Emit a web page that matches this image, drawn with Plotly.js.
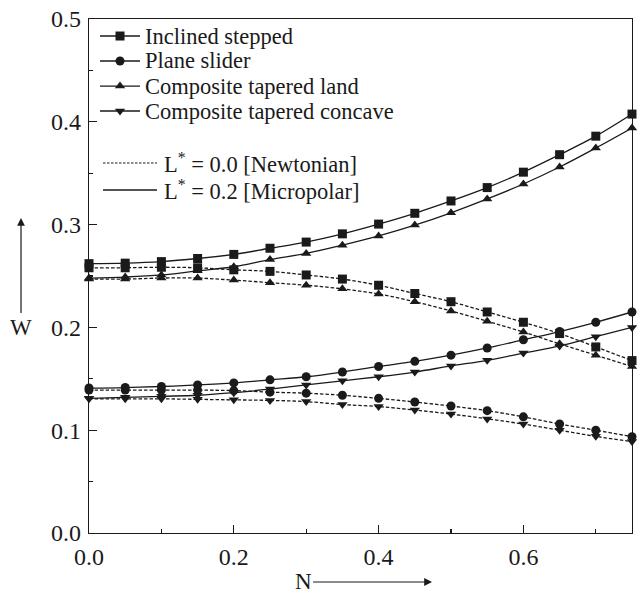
<!DOCTYPE html>
<html>
<head>
<meta charset="utf-8">
<script src="https://cdn.plot.ly/plotly-3.0.1.min.js"></script>
<style>html,body{margin:0;padding:0;background:#fff;}#chart{width:638px;height:597px;}</style>
</head>
<body>
<div id="chart"></div>
<script>
// N values
const N = [0, 0.05, 0.1, 0.15, 0.2, 0.25, 0.3, 0.35, 0.4, 0.45, 0.5, 0.55, 0.6, 0.65, 0.7, 0.75];

// Micropolar (L* = 0.2), solid lines
const steppedMicro  = [0.262, 0.2625, 0.264, 0.267, 0.271, 0.277, 0.283, 0.291, 0.3005, 0.311, 0.323, 0.336, 0.351, 0.368, 0.386, 0.4075];
const planeMicro    = [0.141, 0.1415, 0.1425, 0.144, 0.146, 0.149, 0.152, 0.1566, 0.162, 0.167, 0.173, 0.180, 0.188, 0.196, 0.205, 0.215];
const landMicro     = [0.248, 0.249, 0.251, 0.255, 0.259, 0.266, 0.272, 0.280, 0.289, 0.2995, 0.3115, 0.325, 0.3395, 0.356, 0.3745, 0.394];
const concaveMicro  = [0.131, 0.132, 0.133, 0.134, 0.1365, 0.140, 0.144, 0.148, 0.152, 0.1566, 0.1625, 0.168, 0.175, 0.182, 0.191, 0.200];

// Newtonian (L* = 0.0), dashed lines
const steppedNewt   = [0.258, 0.258, 0.2585, 0.258, 0.256, 0.2545, 0.251, 0.247, 0.241, 0.233, 0.225, 0.215, 0.205, 0.194, 0.181, 0.1677];
const planeNewt     = [0.139, 0.139, 0.139, 0.139, 0.1385, 0.137, 0.136, 0.134, 0.131, 0.1274, 0.1235, 0.119, 0.113, 0.106, 0.100, 0.0937];
const landNewt      = [0.247, 0.247, 0.248, 0.248, 0.246, 0.2435, 0.241, 0.2375, 0.2325, 0.225, 0.216, 0.206, 0.1955, 0.184, 0.173, 0.162];
const concaveNewt   = [0.1305, 0.1305, 0.1305, 0.130, 0.1295, 0.129, 0.1278, 0.125, 0.123, 0.1196, 0.1157, 0.111, 0.106, 0.100, 0.094, 0.089];

const seriesNames = ['Inclined stepped', 'Plane slider', 'Composite tapered land', 'Composite tapered concave'];
const styleNames = ['L<sup>*</sup> = 0.0 [Newtonian]', 'L<sup>*</sup> = 0.2 [Micropolar]'];
const xTickLabels = ['0.0', '0.2', '0.4', '0.6'];
const yTickLabels = ['0.0', '0.1', '0.2', '0.3', '0.4', '0.5'];

const symbols = ['square', 'circle', 'triangle-up', 'triangle-down'];
const microData = [steppedMicro, planeMicro, landMicro, concaveMicro];
const newtData = [steppedNewt, planeNewt, landNewt, concaveNewt];

const BLK = '#1a1a1a';
const DASH = '3.5px,2px';
const FONT = 'Liberation Serif, Times New Roman, serif';
const MS = 9;

const traces = [];
for (let i = 0; i < 4; i++) {
  traces.push({x: N, y: newtData[i], mode: 'lines+markers', showlegend: false, cliponaxis: false,
    line: {color: BLK, width: 1.3, dash: DASH, shape: 'spline'},
    marker: {symbol: symbols[i], size: MS, color: BLK}});
  traces.push({x: N, y: microData[i], mode: 'lines+markers', showlegend: false, cliponaxis: false,
    line: {color: BLK, width: 1.3, shape: 'spline'},
    marker: {symbol: symbols[i], size: MS, color: BLK}});
}

// ---- hand-built legend (paper-fraction positions) ----
const legRowY = [0.9669, 0.9183, 0.8696, 0.8210];   // rows of marker keys
const legStyleY = [0.7198, 0.6673];                  // rows of line-style keys
const legKeyX0 = 0.0203, legKeyX1 = 0.0939, legKeyXm = 0.0571, legTextX = 0.0994;
const legStyleX0 = 0.0258, legStyleX1 = 0.1252, legStyleTextX = 0.1344;

const shapes = [];
const annotations = [];
for (let i = 0; i < 4; i++) {
  shapes.push({type: 'line', xref: 'paper', yref: 'paper', x0: legKeyX0, x1: legKeyX1,
    y0: legRowY[i], y1: legRowY[i], line: {color: BLK, width: 1.3}});
  traces.push({x: [legKeyXm], y: [legRowY[i]], xaxis: 'x2', yaxis: 'y2', mode: 'markers',
    showlegend: false, cliponaxis: false, hoverinfo: 'skip',
    marker: {symbol: symbols[i], size: MS, color: BLK}});
  annotations.push({xref: 'paper', yref: 'paper', x: legTextX, y: legRowY[i], xanchor: 'left', yanchor: 'middle',
    text: seriesNames[i], showarrow: false, font: {family: FONT, size: 22.5, color: BLK}});
}
shapes.push({type: 'line', xref: 'paper', yref: 'paper', x0: legStyleX0, x1: legStyleX1,
  y0: legStyleY[0], y1: legStyleY[0], line: {color: BLK, width: 1.2, dash: '2.5px,1.5px'}});
shapes.push({type: 'line', xref: 'paper', yref: 'paper', x0: legStyleX0, x1: legStyleX1,
  y0: legStyleY[1], y1: legStyleY[1], line: {color: BLK, width: 1.3}});
for (let j = 0; j < 2; j++) {
  annotations.push({xref: 'paper', yref: 'paper', x: legStyleTextX, y: legStyleY[j], xanchor: 'left', yanchor: 'middle',
    text: styleNames[j], showarrow: false, font: {family: FONT, size: 22.5, color: BLK}});
}

// axis titles with arrows (arrow runs from the title text to the head)
annotations.push(
  {xref: 'paper', yref: 'paper', x: -0.1252, y: 0.6128, text: 'W', showarrow: true,
    ax: 0, ay: 109, xanchor: 'center', yanchor: 'middle',
    arrowhead: 2, arrowsize: 1.3, arrowwidth: 1.2, arrowcolor: BLK, standoff: 0,
    font: {family: FONT, size: 23, color: BLK}},
  {xref: 'paper', yref: 'paper', x: 0.6317, y: -0.0953, text: 'N', showarrow: true,
    ax: -129, ay: 0, xanchor: 'center', yanchor: 'middle',
    arrowhead: 2, arrowsize: 1.3, arrowwidth: 1.2, arrowcolor: BLK, standoff: 0,
    font: {family: FONT, size: 23, color: BLK}}
);

const layout = {
  width: 638, height: 597,
  margin: {l: 89, r: 6, t: 19, b: 64},
  paper_bgcolor: '#fff', plot_bgcolor: '#fff',
  font: {family: FONT, size: 22, color: BLK},
  showlegend: false,
  xaxis: {range: [0, 0.75], tickvals: [0, 0.2, 0.4, 0.6], ticktext: xTickLabels,
    ticks: 'inside', ticklen: 8, tickcolor: BLK, tickwidth: 1.2, ticklabelstandoff: 2,
    minor: {tickvals: [0.1, 0.3, 0.5, 0.7], ticks: 'inside', ticklen: 4, tickcolor: BLK},
    showline: true, linecolor: BLK, linewidth: 1.3, mirror: true, showgrid: false, zeroline: false,
    tickfont: {family: FONT, size: 24, color: BLK}},
  yaxis: {range: [0, 0.5], tickvals: [0, 0.1, 0.2, 0.3, 0.4, 0.5], ticktext: yTickLabels,
    ticks: 'inside', ticklen: 8, tickcolor: BLK, tickwidth: 1.2, ticklabelstandoff: 2,
    minor: {tickvals: [0.05, 0.15, 0.25, 0.35, 0.45], ticks: 'inside', ticklen: 4, tickcolor: BLK},
    showline: true, linecolor: BLK, linewidth: 1.3, mirror: true, showgrid: false, zeroline: false,
    tickfont: {family: FONT, size: 24, color: BLK}},
  xaxis2: {overlaying: 'x', range: [0, 1], visible: false, anchor: 'y2', fixedrange: true},
  yaxis2: {overlaying: 'y', range: [0, 1], visible: false, anchor: 'x2', fixedrange: true},
  shapes: shapes,
  annotations: annotations
};

Plotly.newPlot('chart', traces, layout, {displayModeBar: false, staticPlot: true});
</script>
</body>
</html>
